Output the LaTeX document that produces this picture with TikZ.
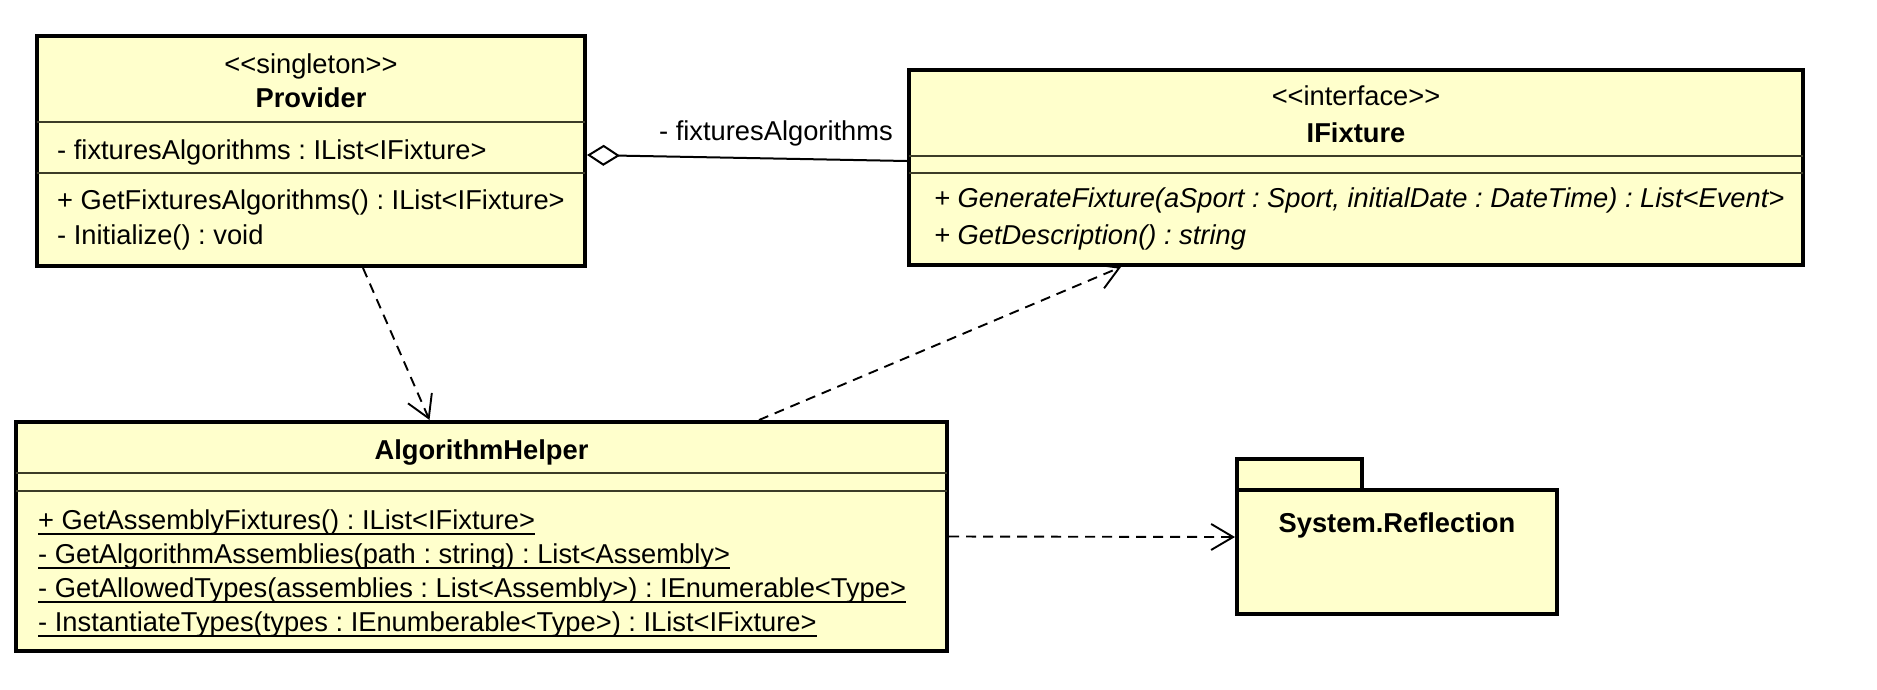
\documentclass[tikz,border=0pt]{standalone}
\usepackage{fontspec}
\setmainfont[Ligatures=NoCommon]{Liberation Sans}
\usetikzlibrary{arrows.meta, positioning, calc}
\definecolor{umlfill}{RGB}{255,255,204}
\definecolor{umlsep}{RGB}{60,60,40}
\newcommand{\umlul}[1]{\setbox0\hbox{#1}\rlap{\rule[-6pt]{\wd0}{1.8pt}}\box0}
\frenchspacing
\tikzset{
    classbox/.style={
        draw,
        line width=4pt,
        fill=umlfill,
        outer sep=2pt,
        inner sep=0pt
    },
    sepline/.style={draw=umlsep, line width=2pt},
    member/.style={anchor=base west, inner sep=0pt},
    classname/.style={anchor=base, inner sep=0pt, font=\fontsize{27.3}{32}\selectfont\bfseries},
    stereo/.style={anchor=base, inner sep=0pt},
    depline/.style={-{Straight Barb[length=22pt,width=26pt]}, line width=1.9pt, dash pattern=on 10pt off 7pt},
    aggline/.style={{Diamond[open,length=33pt,width=21pt]}-, line width=2pt},
    every node/.style={font=\fontsize{27.3}{32}\selectfont}
}

\begin{document}
\begin{tikzpicture}[x=1pt,y=-1pt]
\useasboundingbox (0,0) rectangle (1877,689);

% class boxes
\node[classbox, minimum width=548pt, minimum height=230pt] (provider) at (311,151) {};
\node[classbox, minimum width=894pt, minimum height=195pt] (ifixture) at (1356,167.5) {};
\node[classbox, minimum width=931pt, minimum height=229pt] (helper) at (481.5,536.5) {};
\node[classbox, minimum width=125pt, minimum height=31pt] (pkgtab) at (1299.5,474.5) {};
\node[classbox, minimum width=320pt, minimum height=124pt] (pkg) at (1397,552) {};

% compartments
\draw[sepline] (37,121.5) -- (585,121.5);
\draw[sepline] (37,173) -- (585,173);
\draw[sepline] (909,156) -- (1803,156);
\draw[sepline] (909,173) -- (1803,173);
\draw[sepline] (16,473) -- (947,473);
\draw[sepline] (16,491) -- (947,491);

% Provider
\node[stereo] (provst) at (311,73) {{<}{<}singleton{>}{>}};
\node[classname] (provname) at (311,107) {Provider};
\node[member] (provattr) at (57,159) {- fixturesAlgorithms : IList<IFixture>};
\node[member] (provop1) at (57,209) {+ GetFixturesAlgorithms() : IList<IFixture>};
\node[member] (provop2) at (57,244) {- Initialize() : void};

% IFixture
\node[stereo] (ifixst) at (1356,105) {{<}{<}interface{>}{>}};
\node[classname] (ifixname) at (1356,142) {IFixture};
\node[member] (ifixop1) at (934,207) {\itshape + GenerateFixture(aSport : Sport, initialDate : DateTime) : List<Event>};
\node[member] (ifixop2) at (934,244) {\itshape + GetDescription() : string};

% AlgorithmHelper
\node[classname] (helpname) at (481.5,459) {AlgorithmHelper};
\node[member] (helpop1) at (38,529) {\umlul{+ GetAssemblyFixtures() : IList<IFixture>}};
\node[member] (helpop2) at (38,563) {\umlul{- GetAlgorithmAssemblies(path : string) : List<Assembly>}};
\node[member] (helpop3) at (38,597) {\umlul{- GetAllowedTypes(assemblies : List<Assembly>) : IEnumerable<Type>}};
\node[member] (helpop4) at (38,631) {\umlul{- InstantiateTypes(types : IEnumberable<Type>) : IList<IFixture>}};

% package
\node[classname] (pkgname) at (1397,532) {System.Reflection};

% relations
\draw[aggline] ([yshift=-4pt]provider.east) -- ([yshift=6.5pt]ifixture.west);
\node[anchor=base east, inner sep=0pt] (role) at (893,140) {- fixturesAlgorithms};
\draw[depline] ([xshift=52pt]provider.south) -- ([xshift=-52pt]helper.north);
\draw[depline] ([xshift=277.5pt]helper.north) -- ([xshift=-235pt]ifixture.south);
\draw[depline] (helper.east) -- ([yshift=15pt]pkg.west);

\end{tikzpicture}
\end{document}
